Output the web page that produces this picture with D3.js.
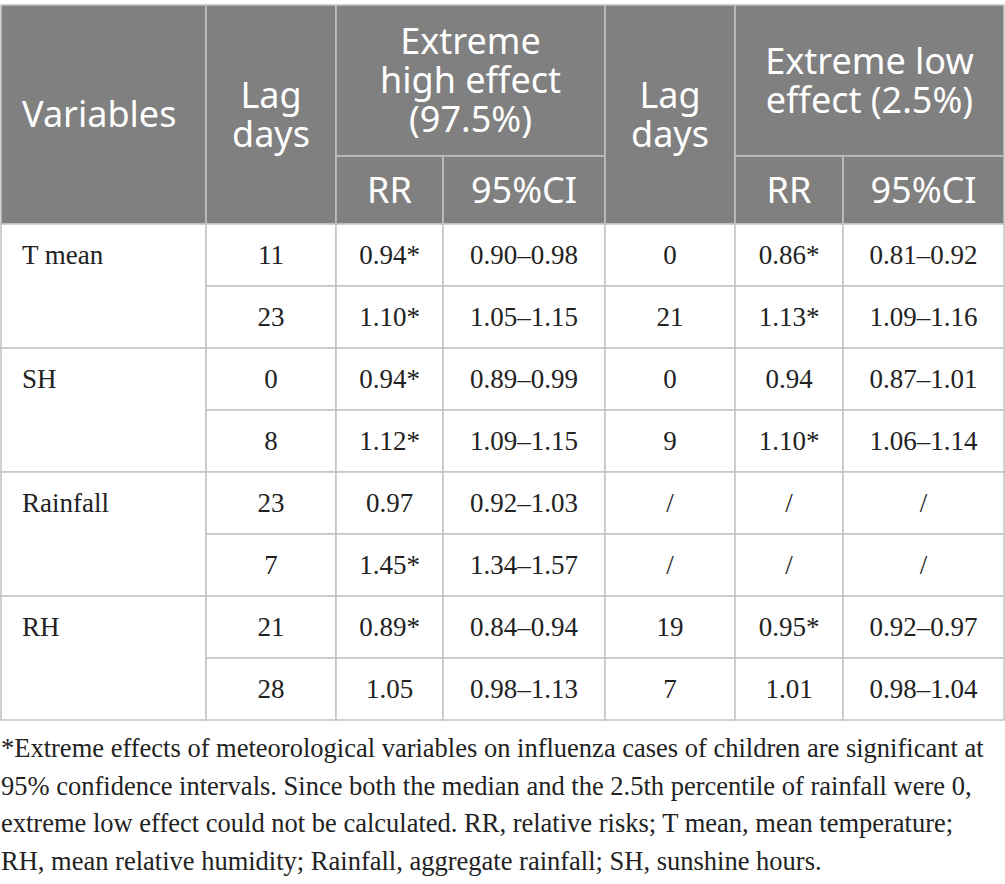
<!DOCTYPE html>
<html>
<head>
<meta charset="utf-8">
<script src="https://cdn.jsdelivr.net/npm/d3@7"></script>
<style>
  body { margin: 0; background: #fff; }
  svg { display: block; }
</style>
</head>
<body>
<svg width="1005" height="884"></svg>
<script>
const svg = d3.select("svg");

// table data
const variables = ["T mean", "SH", "Rainfall", "RH"];
const highLag = ["11", "23", "0", "8", "23", "7", "21", "28"];
const highRR = ["0.94*", "1.10*", "0.94*", "1.12*", "0.97", "1.45*", "0.89*", "1.05"];
const highCI = ["0.90–0.98", "1.05–1.15", "0.89–0.99", "1.09–1.15", "0.92–1.03", "1.34–1.57", "0.84–0.94", "0.98–1.13"];
const lowLag = ["0", "21", "0", "9", "/", "/", "19", "7"];
const lowRR = ["0.86*", "1.13*", "0.94", "1.10*", "/", "/", "0.95*", "1.01"];
const lowCI = ["0.81–0.92", "1.09–1.16", "0.87–1.01", "1.06–1.14", "/", "/", "0.92–0.97", "0.98–1.04"];
const headers = [
    { text: ["Variables"], c0: 0, c1: 1, r: "full" },
    { text: ["Lag", "days"], c0: 1, c1: 2, r: "full" },
    { text: ["Extreme", "high effect", "(97.5%)"], c0: 2, c1: 4, r: "top" },
    { text: ["RR"], c0: 2, c1: 3, r: "sub" },
    { text: ["95%CI"], c0: 3, c1: 4, r: "sub" },
    { text: ["Lag", "days"], c0: 4, c1: 5, r: "full" },
    { text: ["Extreme low", "effect (2.5%)"], c0: 5, c1: 7, r: "top" },
    { text: ["RR"], c0: 5, c1: 6, r: "sub" },
    { text: ["95%CI"], c0: 6, c1: 7, r: "sub" }
];
const footnote = [
    "*Extreme effects of meteorological variables on influenza cases of children are significant at",
    "95% confidence intervals. Since both the median and the 2.5th percentile of rainfall were 0,",
    "extreme low effect could not be calculated. RR, relative risks; T mean, mean temperature;",
    "RH, mean relative humidity; Rainfall, aggregate rainfall; SH, sunshine hours."
];

// layout
const colEdges = [1, 206, 336, 443, 605, 735, 843, 1004];
const headTop = 5, headMid = 156, headBottom = 224, tableBottom = 720;
const headFill = "#808080", lineColor = "#c2c2c2", ink = "#222";
const sans = "'Noto Sans', 'Open Sans', sans-serif";
const serif = "'Liberation Serif', 'DejaVu Serif', serif";

const y = d3.scaleBand()
    .domain(d3.range(highLag.length))
    .range([headBottom, tableBottom]);

const headRows = {
    full: [headTop, headBottom],
    top: [headTop, headMid],
    sub: [headMid, headBottom]
};

// header cells
const head = svg.append("g").attr("class", "header");
headers.forEach(h => {
    const [y0, y1] = headRows[h.r];
    const x0 = colEdges[h.c0], x1 = colEdges[h.c1];
    head.append("rect")
        .attr("x", x0).attr("y", y0)
        .attr("width", x1 - x0).attr("height", y1 - y0)
        .attr("fill", headFill)
        .attr("stroke", lineColor)
        .attr("stroke-width", 1.5);
    const lh = 39;
    const cy = (y0 + y1) / 2 - (h.text.length - 1) * lh / 2;
    const tx = h.c0 === 0 ? 22 : (x0 + x1) / 2;
    const label = head.append("text")
        .attr("text-anchor", h.c0 === 0 ? "start" : "middle")
        .style("font-family", sans)
        .style("font-size", "36px")
        .style("fill", "#fff");
    h.text.forEach((t, i) => {
        label.append("tspan")
            .attr("x", tx)
            .attr("y", cy + i * lh)
            .attr("dy", "0.36em")
            .text(t);
    });
});

// body cells
const body = svg.append("g").attr("class", "body");
const columns = [highLag, highRR, highCI, lowLag, lowRR, lowCI];

variables.forEach((v, g) => {
    const y0 = y(g * 2), y1 = y(g * 2 + 1) + y.bandwidth();
    body.append("rect")
        .attr("x", colEdges[0]).attr("y", y0)
        .attr("width", colEdges[1] - colEdges[0]).attr("height", y1 - y0)
        .attr("fill", "#fff")
        .attr("stroke", lineColor)
        .attr("stroke-width", 1.5);
    body.append("text")
        .attr("x", 22)
        .attr("y", y(g * 2) + y.bandwidth() / 2)
        .attr("dy", "0.33em")
        .style("font-family", serif)
        .style("font-size", "27px")
        .style("fill", ink)
        .text(v);
});

columns.forEach((col, c) => {
    const x0 = colEdges[c + 1], x1 = colEdges[c + 2];
    const cells = body.selectAll(null)
        .data(col)
        .join("g")
        .attr("transform", (d, i) => `translate(${x0},${y(i)})`);
    cells.append("rect")
        .attr("width", x1 - x0)
        .attr("height", y.bandwidth())
        .attr("fill", "#fff")
        .attr("stroke", lineColor)
        .attr("stroke-width", 1.5);
    cells.append("text")
        .attr("x", (x1 - x0) / 2)
        .attr("y", y.bandwidth() / 2)
        .attr("dy", "0.33em")
        .attr("text-anchor", "middle")
        .style("font-family", serif)
        .style("font-size", "27px")
        .style("fill", ink)
        .text(d => d);
});

// footnote
svg.append("g").attr("class", "footnote")
    .selectAll("text")
    .data(footnote)
    .join("text")
    .attr("x", 1)
    .attr("y", (d, i) => 757 + i * 37.6)
    .style("font-family", serif)
    .style("font-size", "26.5px")
    .style("fill", ink)
    .text(d => d);
</script>
</body>
</html>
